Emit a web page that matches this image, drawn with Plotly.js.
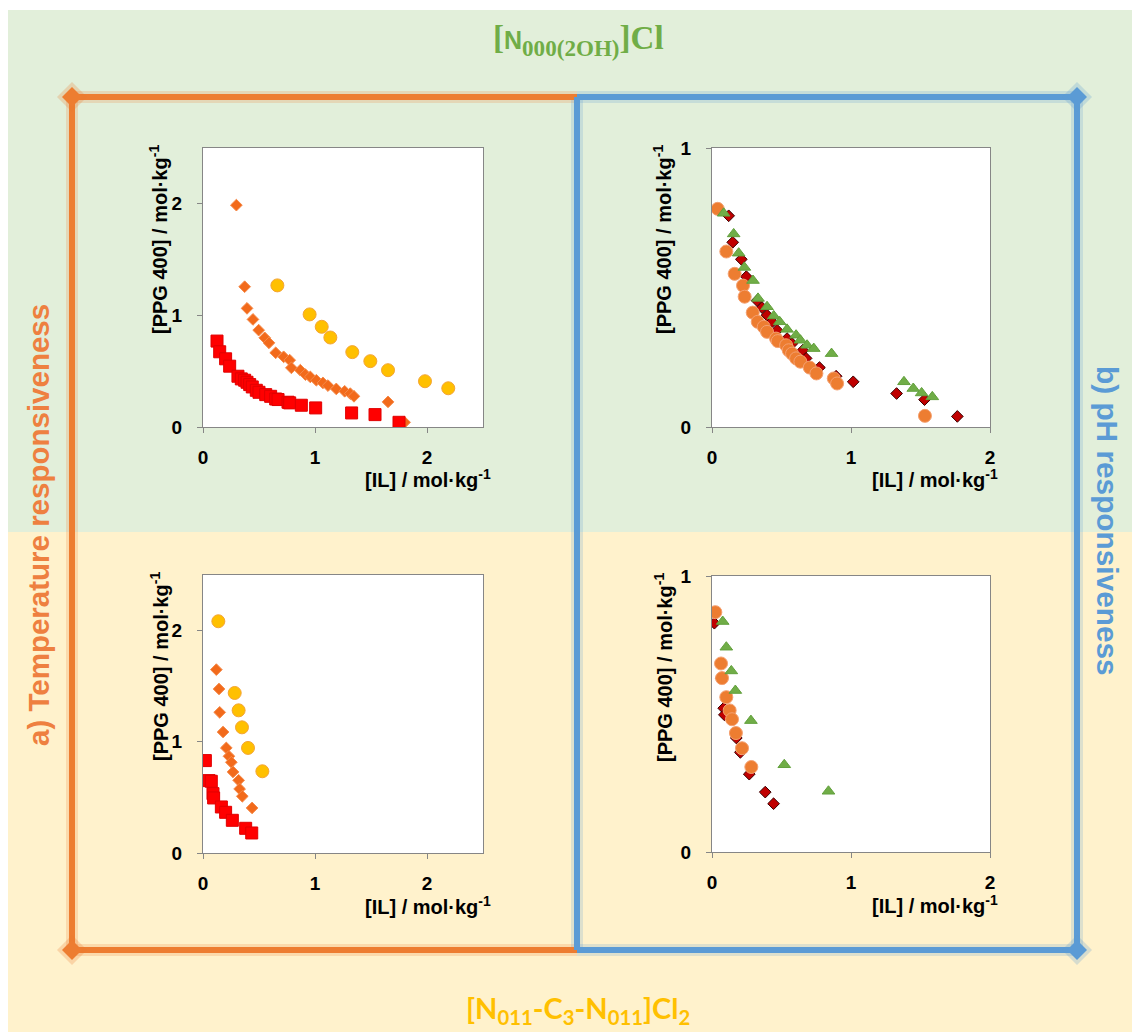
<!DOCTYPE html>
<html>
<head>
<meta charset="utf-8">
<script src="https://cdn.plot.ly/plotly-3.0.1.min.js"></script>
<style>html,body{margin:0;padding:0;background:#fff;}#chart{width:1132px;height:1032px;}</style>
</head>
<body>
<div id="chart"></div>
<script>
// ---------- DATA ----------
// Panel a1: [N000(2OH)]Cl, temperature responsiveness
const a1SquareX = [0.125,0.149,0.202,0.238,0.312,0.342,0.372,0.393,0.417,0.440,0.476,0.500,0.560,0.604,0.649,0.670,0.759,0.774,0.878,1.006,1.327,1.536,1.750];
const a1SquareY = [0.770,0.674,0.611,0.545,0.455,0.431,0.419,0.401,0.380,0.359,0.329,0.311,0.290,0.275,0.251,0.246,0.222,0.216,0.195,0.171,0.126,0.111,0.042];
const a1DiamondX = [0.298,0.372,0.393,0.446,0.497,0.551,0.589,0.649,0.720,0.774,0.789,0.869,0.914,0.958,1.012,1.071,1.116,1.190,1.265,1.315,1.348,1.652,1.800];
const a1DiamondY = [1.988,1.257,1.063,0.964,0.868,0.799,0.754,0.665,0.629,0.599,0.530,0.509,0.470,0.449,0.419,0.395,0.371,0.341,0.320,0.299,0.275,0.225,0.042];
const a1CircleX = [0.664,0.952,1.060,1.137,1.333,1.494,1.652,1.982,2.190];
const a1CircleY = [1.269,1.009,0.898,0.802,0.671,0.590,0.509,0.410,0.347];

// Panel b1: [N000(2OH)]Cl, pH responsiveness
const b1DiamondX = [0.120,0.149,0.211,0.247,0.324,0.360,0.396,0.432,0.468,0.540,0.576,0.653,0.677,0.773,0.893,1.016,1.328,1.529,1.765];
const b1DiamondY = [0.757,0.662,0.601,0.539,0.453,0.428,0.401,0.377,0.347,0.317,0.299,0.275,0.246,0.213,0.182,0.162,0.120,0.098,0.038];
const b1CircleX = [0.041,0.103,0.163,0.223,0.235,0.293,0.329,0.372,0.396,0.461,0.473,0.533,0.552,0.576,0.605,0.636,0.703,0.751,0.876,0.900,1.532];
const b1CircleY = [0.782,0.629,0.549,0.507,0.467,0.410,0.377,0.359,0.341,0.317,0.308,0.293,0.275,0.263,0.246,0.234,0.213,0.192,0.174,0.156,0.040];
const b1TriangleX = [0.084,0.156,0.192,0.233,0.295,0.331,0.396,0.444,0.487,0.540,0.605,0.636,0.684,0.732,0.860,1.381,1.448,1.508,1.585];
const b1TriangleY = [0.766,0.692,0.623,0.572,0.525,0.461,0.431,0.398,0.377,0.350,0.329,0.311,0.293,0.281,0.263,0.162,0.138,0.122,0.108];

// Panel a2: [N011-C3-N011]Cl2, temperature responsiveness
const a2SquareX = [0.021,0.054,0.074,0.089,0.095,0.164,0.202,0.262,0.381,0.435];
const a2SquareY = [0.831,0.651,0.645,0.534,0.495,0.414,0.366,0.294,0.222,0.180];
const a2DiamondX = [0.119,0.143,0.149,0.179,0.208,0.232,0.253,0.268,0.318,0.327,0.351,0.438];
const a2DiamondY = [1.649,1.475,1.265,1.088,0.945,0.870,0.816,0.729,0.654,0.576,0.510,0.405];
const a2CircleX = [0.137,0.283,0.318,0.348,0.402,0.530];
const a2CircleY = [2.084,1.439,1.283,1.130,0.945,0.735];

// Panel b2: [N011-C3-N011]Cl2, pH responsiveness
const b2DiamondX = [0.017,0.067,0.084,0.089,0.175,0.204,0.268,0.383,0.443];
const b2DiamondY = [0.829,0.630,0.521,0.497,0.413,0.361,0.282,0.217,0.175];
const b2CircleX = [0.024,0.065,0.072,0.103,0.127,0.144,0.172,0.216,0.283];
const b2CircleY = [0.869,0.683,0.630,0.561,0.513,0.481,0.431,0.376,0.308];
const b2TriangleX = [0.077,0.103,0.139,0.168,0.280,0.520,0.838];
const b2TriangleY = [0.835,0.742,0.656,0.585,0.476,0.316,0.220];

// Tick labels
const tickA = [0, 1, 2];
const tickBy = [0, 1];
const xTitle = '[IL] / mol·kg<sup>-1</sup>';
const yTitle = '[PPG 400] / mol·kg<sup>-1</sup>';
const topTitle = '[<span style="font-family:\'Liberation Sans\',Arial;font-size:25px">N</span><sub>000(2OH)</sub>]Cl';
const bottomTitle = '[N<sub>011</sub>-C<sub>3</sub>-N<sub>011</sub>]Cl<sub>2</sub>';
const leftLabel = 'a) Temperature responsiveness';
const rightLabel = 'b) pH responsiveness';

// ---------- LAYOUT HELPERS ----------
const W = 1132, H = 1032;
const px = v => v / W;
const py = v => 1 - v / H;
const boxes = [
  {l:203, r:483, t:148, b:427},
  {l:712, r:990, t:148, b:427},
  {l:203, r:483, t:575, b:853},
  {l:712, r:990, t:576, b:852}
];

const C = {
  red:'#FF0000', orangeD:'#F26A1B', yellow:'#FFC000',
  dred:'#C00000', green:'#70AD47', orange:'#ED7D31',
  frameO:'#ED7D31', frameB:'#5B9BD5', bgG:'#E2EFDA', bgY:'#FFF2CC'
};

function sq(x,y,xa,ya){return {x,y,xaxis:xa,yaxis:ya,type:'scatter',mode:'markers',
  marker:{symbol:'square',size:12,color:C.red,line:{color:'#E00000',width:1}}};}
function dmO(x,y,xa,ya){return {x,y,xaxis:xa,yaxis:ya,type:'scatter',mode:'markers',
  marker:{symbol:'diamond',size:9,color:C.orangeD,line:{color:'#F58A4A',width:1}}};}
function ciY(x,y,xa,ya){return {x,y,xaxis:xa,yaxis:ya,type:'scatter',mode:'markers',
  marker:{symbol:'circle',size:13,color:C.yellow,line:{color:'#F4A535',width:1}}};}
function dmR(x,y,xa,ya){return {x,y,xaxis:xa,yaxis:ya,type:'scatter',mode:'markers',
  marker:{symbol:'diamond',size:9,color:C.dred,line:{color:'#3A0000',width:1}}};}
function ciO(x,y,xa,ya){return {x,y,xaxis:xa,yaxis:ya,type:'scatter',mode:'markers',
  marker:{symbol:'circle',size:13,color:C.orange,line:{color:'#F4A070',width:1}}};}
function trG(x,y,xa,ya){return {x,y,xaxis:xa,yaxis:ya,type:'scatter',mode:'markers',
  marker:{symbol:'triangle-up',size:11,color:C.green,line:{color:'#62A03C',width:1}}};}

const traces = [
  ciY(a1CircleX,a1CircleY,'x','y'), dmO(a1DiamondX,a1DiamondY,'x','y'), sq(a1SquareX,a1SquareY,'x','y'),
  dmR(b1DiamondX,b1DiamondY,'x2','y2'), ciO(b1CircleX,b1CircleY,'x2','y2'), trG(b1TriangleX,b1TriangleY,'x2','y2'),
  ciY(a2CircleX,a2CircleY,'x3','y3'), dmO(a2DiamondX,a2DiamondY,'x3','y3'), sq(a2SquareX,a2SquareY,'x3','y3'),
  dmR(b2DiamondX,b2DiamondY,'x4','y4'), ciO(b2CircleX,b2CircleY,'x4','y4'), trG(b2TriangleX,b2TriangleY,'x4','y4')
];

const tickFont = {family:'"Liberation Sans", Arial, sans-serif', size:19, color:'#000', weight:'bold'};
function ax(dom, range, ticks, anchor, standoff){
  return {domain:dom, range:range, tickvals:ticks, ticktext:ticks.map(String), anchor:anchor,
    showline:true, mirror:true, linecolor:'#868686', linewidth:1,
    ticks:'outside', ticklen:5, tickcolor:'#868686', tickwidth:1,
    showgrid:false, zeroline:false, tickfont:tickFont, ticklabelstandoff:standoff, fixedrange:true};
}

const layout = {
  width:W, height:H, margin:{l:0,r:0,t:0,b:0,pad:0},
  paper_bgcolor:'#ffffff', plot_bgcolor:'#ffffff', showlegend:false,
  font:{family:'"Liberation Sans", Arial, sans-serif'}
};
const ids = [['xaxis','yaxis','x','y'],['xaxis2','yaxis2','x2','y2'],['xaxis3','yaxis3','x3','y3'],['xaxis4','yaxis4','x4','y4']];
const xr = [[0,2.5],[0,2],[0,2.5],[0,2]];
const yr = [[0,2.5],[0,1],[0,2.5],[0,1]];
const yt = [tickA, tickBy, tickA, tickBy];
ids.forEach((id,i)=>{
  const b = boxes[i];
  layout[id[0]] = ax([px(b.l),px(b.r)], xr[i], tickA, id[3], 8);
  layout[id[1]] = ax([py(b.b),py(b.t)], yr[i], yt[i], id[2], 11);
});

// ---------- SHAPES (decoration) ----------
const shapes = [];
shapes.push({type:'rect',xref:'paper',yref:'paper',x0:px(8),x1:1,y0:py(532),y1:py(10),fillcolor:C.bgG,line:{width:0},layer:'below'});
shapes.push({type:'rect',xref:'paper',yref:'paper',x0:px(8),x1:1,y0:0,y1:py(532),fillcolor:C.bgY,line:{width:0},layer:'below'});
boxes.forEach(b=>shapes.push({type:'rect',xref:'paper',yref:'paper',x0:px(b.l),x1:px(b.r),y0:py(b.b),y1:py(b.t),fillcolor:'#ffffff',line:{width:0},layer:'below'}));

function seg(x0,y0,x1,y1,col,w,op){
  shapes.push({type:'line',xref:'paper',yref:'paper',x0:px(x0),y0:py(y0),x1:px(x1),y1:py(y1),line:{color:col,width:w},opacity:op,layer:'below'});
}
const FL=72, FM=577, FR=1077, FT=97, FB=950;
const segs = [
  [FL,FT,FL,FB,C.frameO],[FL,FT,FM,FT,C.frameO],[FL,FB,FM,FB,C.frameO],
  [FM,FT,FR,FT,C.frameB],[FM,FB,FR,FB,C.frameB],[FM,FT,FM,FB,C.frameB],[FR,FT,FR,FB,C.frameB]
];
segs.forEach(s=>seg(s[0],s[1],s[2],s[3],s[4],12,0.2));
segs.forEach(s=>seg(s[0],s[1],s[2],s[3],s[4],6,1));
function dia(cx,cy,r,col,op){
  const p = `M${px(cx-r)},${py(cy)} L${px(cx)},${py(cy-r)} L${px(cx+r)},${py(cy)} L${px(cx)},${py(cy+r)} Z`;
  shapes.push({type:'path',xref:'paper',yref:'paper',path:p,fillcolor:col,line:{width:0},opacity:op,layer:'below'});
}
[[FL,FT,C.frameO],[FL,FB,C.frameO],[FR,FT,C.frameB],[FR,FB,C.frameB]].forEach(d=>{
  dia(d[0],d[1],15,d[2],0.25); dia(d[0],d[1],10,d[2],1);
});
layout.shapes = shapes;

// ---------- ANNOTATIONS ----------
const axFont = {family:'"Liberation Sans", Arial, sans-serif', size:20, color:'#000', weight:'bold'};
const ann = [];
boxes.forEach((b,i)=>{
  const yx = (i%2===0) ? 159 : 663;
  ann.push({xref:'paper',yref:'paper',x:px(yx),y:py(b.t+92),text:yTitle,textangle:-90,showarrow:false,xanchor:'center',yanchor:'middle',font:axFont});
  ann.push({xref:'paper',yref:'paper',x:px(b.r+10),y:py(b.b+52),text:xTitle,showarrow:false,xanchor:'right',yanchor:'middle',font:axFont});
});
ann.push({xref:'paper',yref:'paper',x:px(578),y:py(41),text:topTitle,showarrow:false,xanchor:'center',yanchor:'middle',
  font:{family:'"Liberation Serif", "Times New Roman", serif',size:33,color:C.green,weight:'bold'}});
ann.push({xref:'paper',yref:'paper',x:px(578),y:py(1009),text:bottomTitle,showarrow:false,xanchor:'center',yanchor:'middle',
  font:{family:'Lato, "Open Sans", sans-serif',size:29,color:C.yellow,weight:'bold'}});
ann.push({xref:'paper',yref:'paper',x:px(38),y:py(525),text:leftLabel,textangle:-90,showarrow:false,xanchor:'center',yanchor:'middle',
  font:{family:'"Liberation Sans", Arial, sans-serif',size:29.5,color:'#EE8040',weight:'bold'}});
ann.push({xref:'paper',yref:'paper',x:px(1108),y:py(521),text:rightLabel,textangle:90,showarrow:false,xanchor:'center',yanchor:'middle',
  font:{family:'"Liberation Sans", Arial, sans-serif',size:29.8,color:C.frameB,weight:'bold'}});
layout.annotations = ann;

Plotly.newPlot('chart', traces, layout, {displayModeBar:false, staticPlot:true});
</script>
</body>
</html>
